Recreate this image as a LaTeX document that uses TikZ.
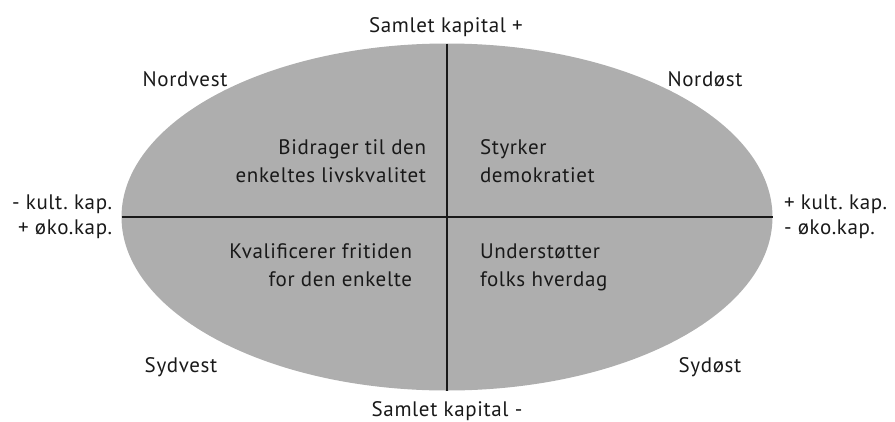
\documentclass[tikz,border=0pt]{standalone}
\usepackage{fontspec}
\setmainfont{PT Sans}[LetterSpace=3]
\usetikzlibrary{shapes.geometric}
\definecolor{fillgray}{RGB}{174,174,174}
\definecolor{inkc}{RGB}{25,25,25}
\tikzset{
  lbl/.style={inner sep=0pt, outer sep=0pt, text=inkc, font=\fontsize{21}{27.5}\selectfont\frenchspacing},
  side/.style={lbl, font=\fontsize{21}{25}\selectfont\frenchspacing},
  axis/.style={draw=inkc, line width=1.6pt}
}
\begin{document}
\begin{tikzpicture}[x=1pt,y=-1pt]
\useasboundingbox (0,0) rectangle (895,421);
\node[ellipse, fill=fillgray, minimum width=651pt, minimum height=347pt, inner sep=0pt, outer sep=0pt] (E) at (447,217) {};
\draw[axis] (E.north) -- (E.south);
\draw[axis] (E.west) -- (E.east);
\node[lbl, anchor=base] (top) at (446,32) {Samlet kapital +};
\node[lbl, anchor=base] (bot) at (447,416) {Samlet kapital -};
\node[lbl, anchor=base] (nw) at (185,86) {Nordvest};
\node[lbl, anchor=base] (ne) at (705,86) {Nordøst};
\node[lbl, anchor=base] (sw) at (181,372) {Sydvest};
\node[lbl, anchor=base] (se) at (710,372) {Sydøst};
\node[lbl, anchor=north east, align=right] (q1) at (426,140) {Bidrager til den\\enkeltes livskvalitet};
\node[lbl, anchor=north west, align=left] (q2) at (480,140) {Styrker\\demokratiet};
\node[lbl, anchor=north east, align=right] (q3) at (412,244) {Kvalificerer fritiden\\for den enkelte};
\node[lbl, anchor=north west, align=left] (q4) at (480,244) {Understøtter\\folks hverdag};
\node[side, anchor=north east, align=right] (lft) at (112,195) {- kult. kap.\\+ øko.kap.};
\node[side, anchor=north west, align=left] (rgt) at (784,195) {+ kult. kap.\\- øko.kap.};
\end{tikzpicture}
\end{document}
